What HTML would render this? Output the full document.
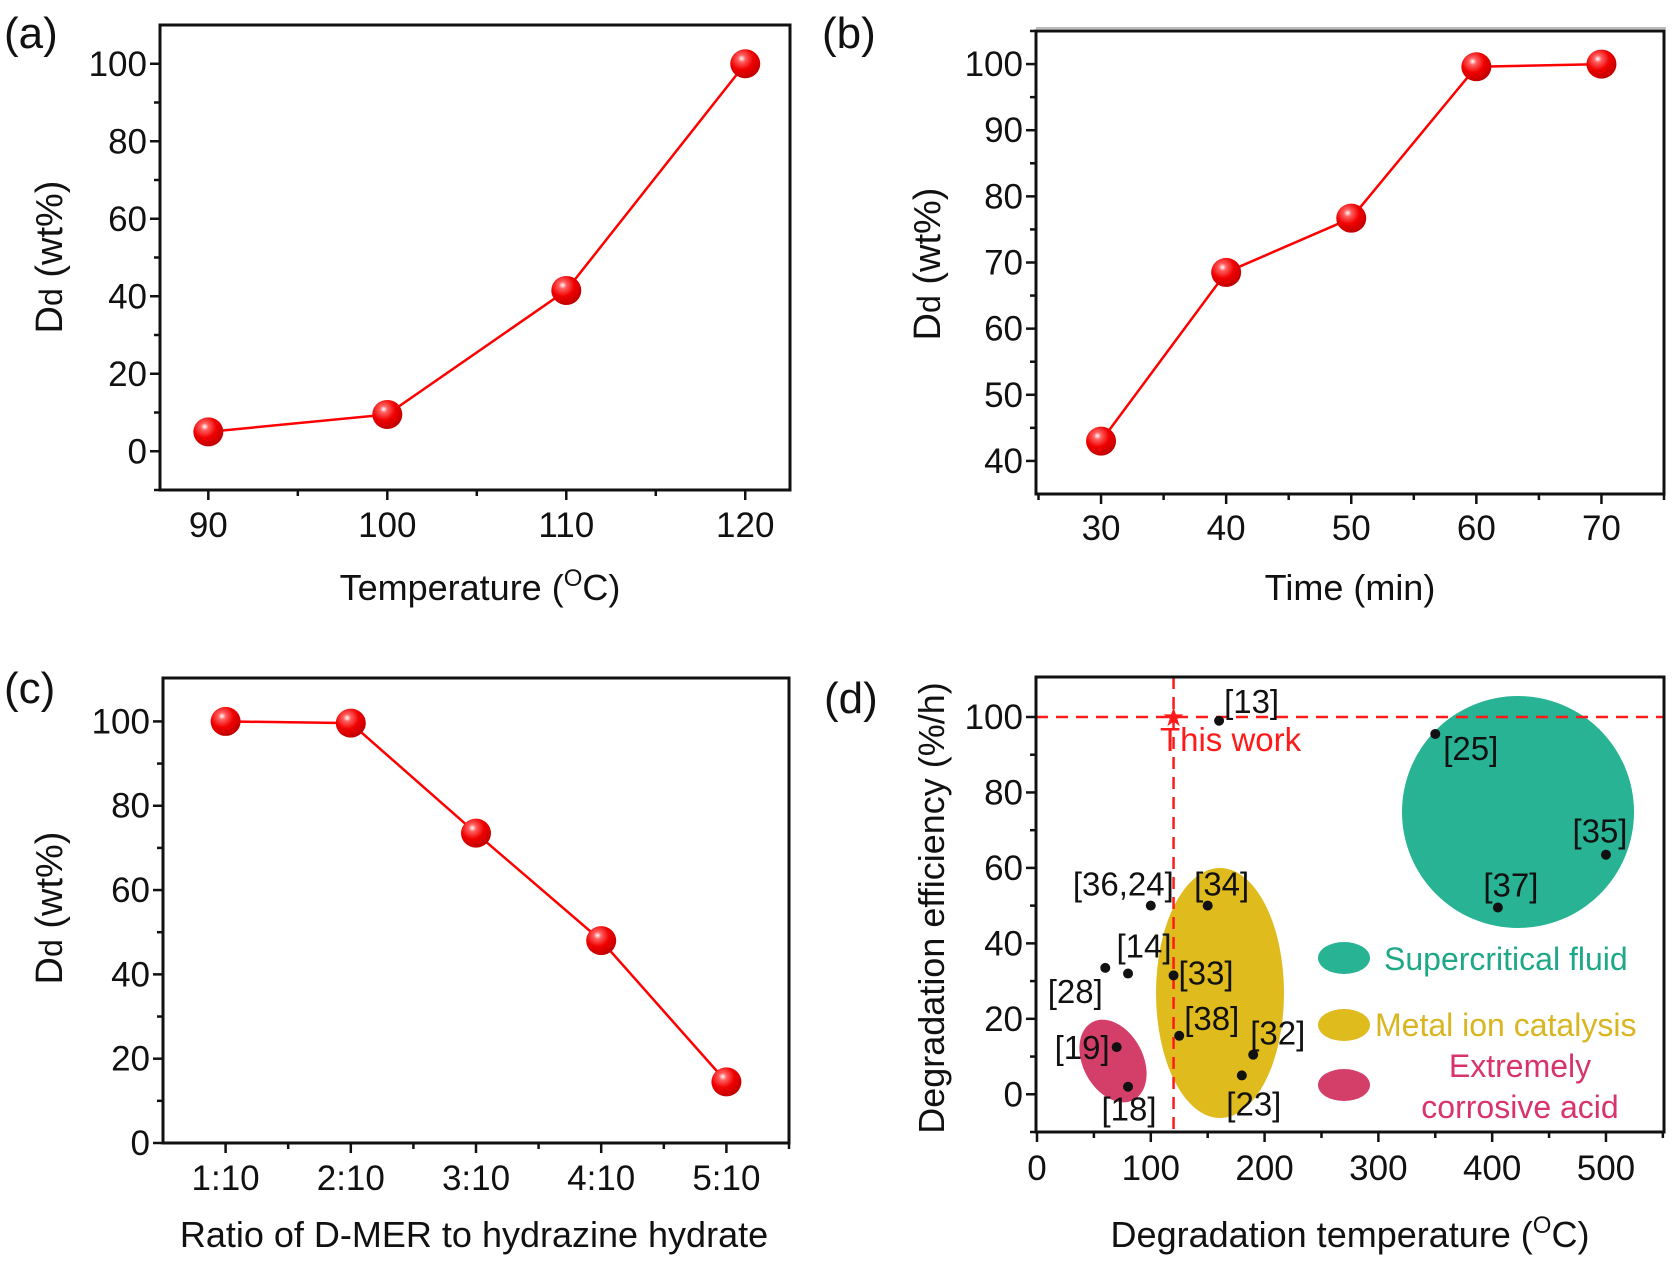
<!DOCTYPE html>
<html><head><meta charset="utf-8">
<style>
html,body{margin:0;padding:0;background:#fff;}
svg{display:block;font-family:"Liberation Sans",Arial,sans-serif;}
</style></head>
<body>
<svg id="fig" width="1673" height="1262" viewBox="0 0 1673 1262" xmlns="http://www.w3.org/2000/svg">
<defs>
<radialGradient id="ball" cx="0.38" cy="0.32" r="0.7">
<stop offset="0" stop-color="#ffffff"/>
<stop offset="0.18" stop-color="#ff6060"/>
<stop offset="0.55" stop-color="#f00000"/>
<stop offset="1" stop-color="#c00000"/>
</radialGradient>
</defs>
</svg>
<script>
// ---- Panel (a) data ----
const aCats = [90, 100, 110, 120];
const aVals = [5, 9.5, 41.5, 100];
const aYTicks = [0, 20, 40, 60, 80, 100];
const aXTicks = [90, 100, 110, 120];
// ---- Panel (b) data ----
const bCats = [30, 40, 50, 60, 70];
const bVals = [43, 68.5, 76.7, 99.6, 100];
const bYTicks = [40, 50, 60, 70, 80, 90, 100];
const bXTicks = [30, 40, 50, 60, 70];
// ---- Panel (c) data ----
const cCats = ["1:10", "2:10", "3:10", "4:10", "5:10"];
const cVals = [100, 99.6, 73.5, 48, 14.5];
const cYTicks = [0, 20, 40, 60, 80, 100];
// ---- Panel (d) data ----
const dRefs = ["[13]", "[25]", "[35]", "[37]", "[36,24]", "[34]", "[14]", "[28]", "[33]", "[38]", "[32]", "[23]", "[19]", "[18]"];
const dTemps = [160, 350, 500, 405, 100, 150, 80, 60, 120, 125, 190, 180, 70, 80];
const dEffs = [99, 95.5, 63.5, 49.5, 50, 50, 32, 33.5, 31.5, 15.5, 10.5, 5, 12.5, 2];
const dThisWork = [120, 100];
const dYTicks = [0, 20, 40, 60, 80, 100];
const dXTicks = [0, 100, 200, 300, 400, 500];
// label layout (pixel offsets from point; anchor)
const dLabDx = [5, 8, -6, 13, 23, 14, 16, -30, 5, 5, -3, 12, -7, 1];
const dLabDy = [-8, 26, -12, -11, -10, -10, -16, 35, 9, -6, -10, 40, 12, 34];
const dLabAnchor = ["start","start","middle","middle","end","middle","middle","middle","start","start","start","middle","end","middle"];

const NS = "http://www.w3.org/2000/svg";
const svg = document.getElementById("fig");
function mk(tag, attrs, parent) {
  const e = document.createElementNS(NS, tag);
  for (const k in attrs) e.setAttribute(k, attrs[k]);
  (parent || svg).appendChild(e);
  return e;
}
function lin(d0, d1, p0, p1) { return v => p0 + (v - d0) * (p1 - p0) / (d1 - d0); }

function frame(g, L, T, R, B) {
  const r = mk("rect", {x: L, y: T, width: R - L, height: B - T, fill: "none", stroke: "#111", "stroke-width": 3}, g);
  
  
}
function yTicksDraw(g, ticks, minors, ys, L) {
  minors.forEach(v => {
    const t = mk("line", {x1: L - 6, x2: L, y1: ys(v), y2: ys(v), stroke: "#111", "stroke-width": 2.5}, g);
    
    
  });
  ticks.forEach(v => {
    const t = mk("line", {x1: L - 10, x2: L, y1: ys(v), y2: ys(v), stroke: "#111", "stroke-width": 2.5}, g);
    
    
    const tx = mk("text", {x: L - 13, y: ys(v) + 12, "text-anchor": "end", "font-size": 35, fill: "#111"}, g);
    tx.textContent = v;
    
    
  });
}
function xTicksDraw(g, ticks, labels, minors, xs, B, labY) {
  minors.forEach(v => {
    const t = mk("line", {x1: xs(v), x2: xs(v), y1: B, y2: B + 6, stroke: "#111", "stroke-width": 2.5}, g);
    
    
  });
  ticks.forEach((v, i) => {
    const t = mk("line", {x1: xs(v), x2: xs(v), y1: B, y2: B + 10, stroke: "#111", "stroke-width": 2.5}, g);
    
    
    const tx = mk("text", {x: xs(v), y: labY, "text-anchor": "middle", "font-size": 35, fill: "#111"}, g);
    tx.textContent = labels[i];
    
    
  });
}
function panelLabel(txt, x, y) {
  const t = mk("text", {x: x, y: y, "font-size": 44, fill: "#111"});
  t.textContent = txt;
  
  
}
function yTitleDd(g, cx, cy) {
  const t = mk("text", {x: 0, y: 0, "text-anchor": "middle", "font-size": 38, fill: "#111", transform: `translate(${cx},${cy}) rotate(-90)`}, g);
  
  
  const s1 = mk("tspan", {}, t); s1.textContent = "D";
  const s2 = mk("tspan", {"font-size": 32}, t); s2.textContent = "d";
  const s3 = mk("tspan", {}, t); s3.textContent = " (wt%)";
}
function xTitle(g, cx, y, parts) {
  const t = mk("text", {x: cx, y: y, "text-anchor": "middle", "font-size": 36, fill: "#111"}, g);
  
  
  parts.forEach(p => {
    const s = mk("tspan", p.sup ? {"font-size": 24, dy: -14} : (p.down ? {dy: 14} : {}), t);
    s.textContent = p.t;
  });
}
function seriesDraw(g, xsArr, vals, xs, ys) {
  const pts = xsArr.map((x, i) => xs(x) + "," + ys(vals[i])).join(" ");
  const pl = mk("polyline", {points: pts, fill: "none", stroke: "#ff0000", "stroke-width": 2.5}, g);
  
  
  xsArr.forEach((x, i) => {
    const c = mk("ellipse", {cx: xs(x), cy: ys(vals[i]), rx: 15, ry: 14.5, fill: "url(#ball)"}, g);
    
    
  });
}
function range(a, b, s) { const r = []; for (let v = a; v <= b + 1e-9; v += s) r.push(+v.toFixed(3)); return r; }

// ---- Panel (a) ----
(function () {
  const g = mk("g", {});
  
  
  const L = 160, R = 790, T = 25, B = 490;
  const xs = lin(87.3, 122.5, L, R), ys = lin(-10, 110, B, T);
  frame(g, L, T, R, B);
  yTicksDraw(g, aYTicks, range(-10, 100, 10).filter(v => v % 20 !== 0), ys, L);
  xTicksDraw(g, aXTicks, aXTicks, [95, 105, 115], xs, B, 537);
  seriesDraw(g, aCats, aVals, xs, ys);
  yTitleDd(g, 62, 257);
  xTitle(g, 480, 600, [{t: "Temperature ("}, {t: "O", sup: true}, {t: "C)", down: true}]);
  panelLabel("(a)", 4, 48);
})();

// ---- Panel (b) ----
(function () {
  const g = mk("g", {});
  
  
  const L = 1036, R = 1664, T = 31, B = 494;
  const gl = mk("line", {x1: L, x2: R + 2, y1: 28, y2: 28, stroke: "#bbb", "stroke-width": 2}, g);
  
  
  const xs = lin(24.8, 75, L, R), ys = lin(35, 105, B, T);
  frame(g, L, T, R, B);
  yTicksDraw(g, bYTicks, [45, 55, 65, 75, 85, 95, 105], ys, L);
  xTicksDraw(g, bXTicks, bXTicks, [25, 35, 45, 55, 65, 75], xs, B, 540);
  seriesDraw(g, bCats, bVals, xs, ys);
  yTitleDd(g, 940, 264);
  xTitle(g, 1350, 600, [{t: "Time (min)"}]);
  panelLabel("(b)", 822, 48);
})();

// ---- Panel (c) ----
(function () {
  const g = mk("g", {});
  
  
  const L = 163, R = 789, T = 678, B = 1143;
  const xs = lin(0.5, 5.5, L, R), ys = lin(0, 110.3, B, T);
  frame(g, L, T, R, B);
  yTicksDraw(g, cYTicks, [10, 30, 50, 70, 90], ys, L);
  const idx = cCats.map((c, i) => i + 1);
  xTicksDraw(g, idx, cCats, [1.5, 2.5, 3.5, 4.5, 5.5], xs, B, 1190);
  seriesDraw(g, idx, cVals, xs, ys);
  yTitleDd(g, 62, 908);
  xTitle(g, 474, 1247, [{t: "Ratio of D-MER to hydrazine hydrate"}]);
  panelLabel("(c)", 4, 703);
})();

// ---- Panel (d) ----
(function () {
  const g = mk("g", {});
  
  
  const L = 1036, R = 1664, T = 677, B = 1132;
  const xs = lin(0, 551, 1037, R), ys = lin(-10, 110.6, B, T);
  const e1 = mk("ellipse", {cx: 1518, cy: 812, rx: 116, ry: 116, fill: "#27b394"}, g);
  
  
  const e2 = mk("ellipse", {cx: 1220, cy: 993, rx: 64, ry: 125, fill: "#e0bb1e"}, g);
  
  
  const e3 = mk("ellipse", {cx: 1113, cy: 1061, rx: 30, ry: 44, fill: "#d43f6a", transform: "rotate(-28 1113 1061)"}, g);
  
  
  const hl = mk("line", {x1: L, x2: R, y1: ys(dThisWork[1]), y2: ys(dThisWork[1]), stroke: "#ff1a1a", "stroke-width": 2.5, "stroke-dasharray": "12 8"}, g);
  
  
  const vl = mk("line", {x1: xs(dThisWork[0]), x2: xs(dThisWork[0]), y1: T, y2: B, stroke: "#ff1a1a", "stroke-width": 2.5, "stroke-dasharray": "12 8"}, g);
  
  
  frame(g, L, T, R, B);
  yTicksDraw(g, dYTicks, [-10, 10, 30, 50, 70, 90], ys, L);
  xTicksDraw(g, dXTicks, dXTicks, [50, 150, 250, 350, 450, 550], xs, B, 1180);
  const sx = xs(dThisWork[0]), sy = ys(dThisWork[1]);
  const star = mk("text", {x: sx, y: sy + 9, "text-anchor": "middle", "font-size": 26, fill: "#ff1a1a"}, g);
  star.textContent = "★";
  
  
  const tw = mk("text", {x: sx + 57, y: sy + 34, "text-anchor": "middle", "font-size": 33, fill: "#ff1a1a"}, g);
  tw.textContent = "This work";
  
  
  dRefs.forEach((ref, i) => {
    const px = xs(dTemps[i]), py = ys(dEffs[i]);
    const c = mk("circle", {cx: px, cy: py, r: 5, fill: "#111"}, g);
    
    
    const t = mk("text", {x: px + dLabDx[i], y: py + dLabDy[i], "text-anchor": dLabAnchor[i], "font-size": 33, fill: "#111"}, g);
    t.textContent = ref;
    
    
  });
  const lg = mk("g", {}, g);
  
  
  const le1 = mk("ellipse", {cx: 1344, cy: 958, rx: 26, ry: 16, fill: "#27b394"}, lg);
  
  
  const le2 = mk("ellipse", {cx: 1344, cy: 1025, rx: 26, ry: 16, fill: "#e0bb1e"}, lg);
  
  
  const le3 = mk("ellipse", {cx: 1344, cy: 1085, rx: 26, ry: 16, fill: "#d43f6a"}, lg);
  
  
  const lt1 = mk("text", {x: 1384, y: 970, "font-size": 32, fill: "#1fa888"}, lg);
  lt1.textContent = "Supercritical fluid";
  
  
  const lt2 = mk("text", {x: 1375, y: 1036, "font-size": 32, fill: "#d9b520"}, lg);
  lt2.textContent = "Metal ion catalysis";
  
  
  const lt3 = mk("text", {x: 1520, y: 1077, "text-anchor": "middle", "font-size": 32, fill: "#d8336a"}, lg);
  lt3.textContent = "Extremely";
  
  
  const lt4 = mk("text", {x: 1520, y: 1118, "text-anchor": "middle", "font-size": 32, fill: "#d8336a"}, lg);
  lt4.textContent = "corrosive acid";
  
  
  const yt = mk("text", {x: 0, y: 0, "text-anchor": "middle", "font-size": 36, fill: "#111", transform: "translate(944,908) rotate(-90)"}, g);
  yt.textContent = "Degradation efficiency (%/h)";
  
  
  xTitle(g, 1350, 1247, [{t: "Degradation temperature ("}, {t: "O", sup: true}, {t: "C)", down: true}]);
  panelLabel("(d)", 824, 713);
})();
</script>
</body></html>
